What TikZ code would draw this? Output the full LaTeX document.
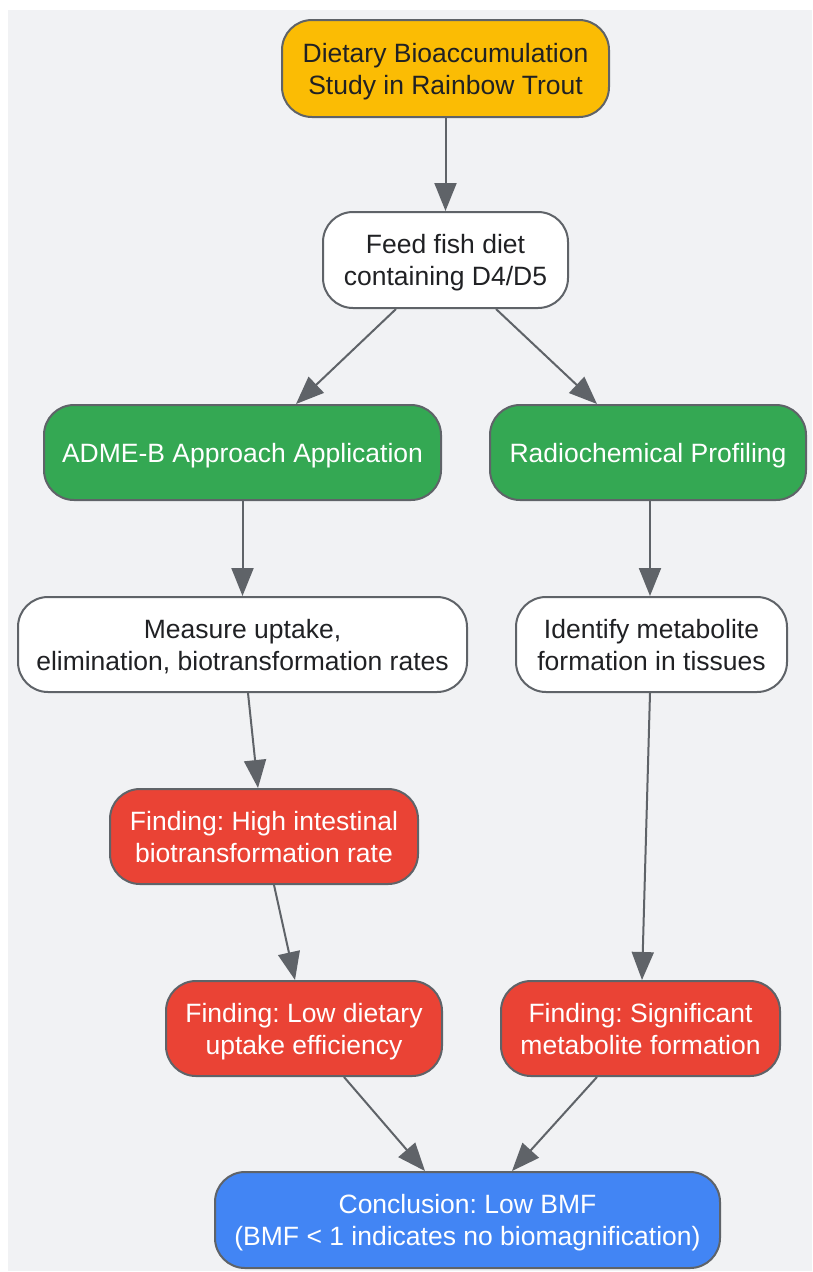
\documentclass[tikz,border=0pt]{standalone}
\usepackage{fontspec}
\setmainfont{Liberation Sans}
\usetikzlibrary{arrows.meta}
\definecolor{bg}{HTML}{F1F2F4}
\definecolor{edgec}{HTML}{5F6368}
\definecolor{ink}{HTML}{202124}
\definecolor{yel}{HTML}{FBBC04}
\definecolor{grn}{HTML}{34A853}
\definecolor{redc}{HTML}{EA4335}
\definecolor{blu}{HTML}{4285F4}
\newcommand{\boxtext}[1]{\raisebox{-3.4pt}[\height][\depth]{\begin{tabular}{@{}c@{}}#1\end{tabular}}}
\frenchspacing
\begin{document}
\begin{tikzpicture}[x=1pt,y=-1pt,
  box/.style={draw=edgec, line width=2pt, rounded corners=30pt,
    inner sep=0pt, font=\fontsize{26.5}{32}\selectfont\frenchspacing},
  whitebox/.style={box, fill=white, text=ink},
  yelbox/.style={box, fill=yel, text=ink},
  grnbox/.style={box, fill=grn, text=white},
  redbox/.style={box, fill=redc, text=white},
  blubox/.style={box, fill=blu, text=white},
  conn/.style={draw=edgec, line width=2pt, -{Triangle[length=28pt,width=22pt]}}]
\useasboundingbox (0,0) rectangle (812,1272);
\fill[bg] (8,10) rectangle (812,1271);

\node[yelbox, minimum width=327pt, minimum height=97pt] (top) at (445.5,68.5)
  {\boxtext{Dietary Bioaccumulation\\Study in Rainbow Trout}};
\node[whitebox, minimum width=245pt, minimum height=96pt] (feed) at (445.5,260)
  {\boxtext{Feed fish diet\\containing D4/D5}};
\node[grnbox, minimum width=397pt, minimum height=95pt] (adme) at (242.5,452.5)
  {\boxtext{ADME-B Approach Application}};
\node[grnbox, minimum width=316pt, minimum height=95pt] (radio) at (648,452.5)
  {\boxtext{Radiochemical Profiling}};
\node[whitebox, minimum width=449pt, minimum height=95pt] (measure) at (242.5,644.5)
  {\boxtext{Measure uptake,\\elimination, biotransformation rates}};
\node[whitebox, minimum width=271pt, minimum height=95pt] (ident) at (651.5,644.5)
  {\boxtext{Identify metabolite\\formation in tissues}};
\node[redbox, minimum width=308pt, minimum height=95pt] (high) at (264,836.5)
  {\boxtext{Finding: High intestinal\\biotransformation rate}};
\node[redbox, minimum width=276pt, minimum height=95pt] (low) at (304,1028.5)
  {\boxtext{Finding: Low dietary\\uptake efficiency}};
\node[redbox, minimum width=279pt, minimum height=95pt] (sig) at (640.5,1028.5)
  {\boxtext{Finding: Significant\\metabolite formation}};
\node[blubox, minimum width=505pt, minimum height=96pt] (concl) at (467.5,1220)
  {\boxtext{Conclusion: Low BMF\\(BMF < 1 indicates no biomagnification)}};

\draw[conn] (top.south) -- (feed.north);
\draw[conn] ([xshift=-49.5pt]feed.south) -- ([xshift=53.5pt]adme.north);
\draw[conn] ([xshift=50.5pt]feed.south) -- ([xshift=-51pt]radio.north);
\draw[conn] (adme.south) -- (measure.north);
\draw[conn] ([xshift=2pt]radio.south) -- ([xshift=-1.5pt]ident.north);
\draw[conn] ([xshift=5.5pt]measure.south) -- ([xshift=-6pt]high.north);
\draw[conn] ([xshift=10pt]high.south) -- ([xshift=-9pt]low.north);
\draw[conn] ([xshift=-1.5pt]ident.south) -- ([xshift=1.5pt]sig.north);
\draw[conn] ([xshift=40pt]low.south) -- ([xshift=-42.5pt]concl.north);
\draw[conn] ([xshift=-43.5pt]sig.south) -- ([xshift=44.5pt]concl.north);
\end{tikzpicture}
\end{document}
